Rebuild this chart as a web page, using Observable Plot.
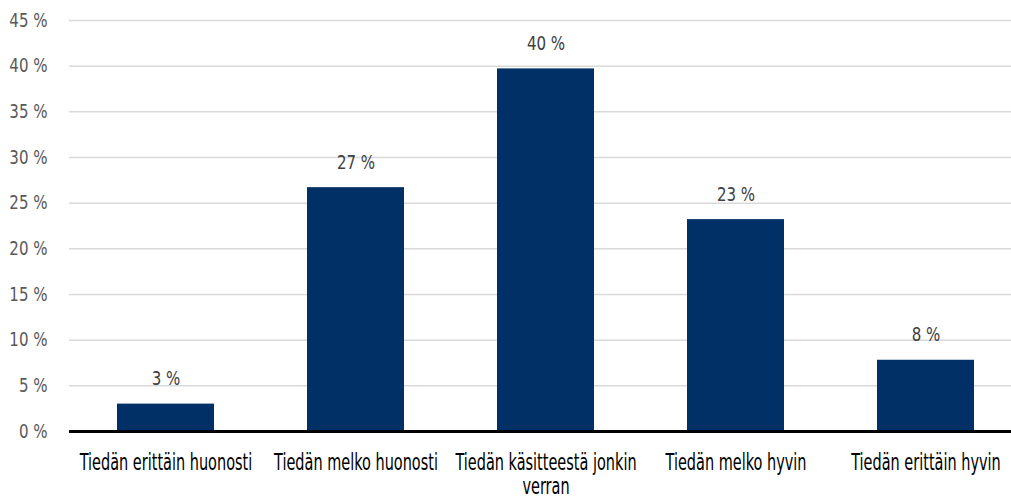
<!DOCTYPE html>
<html>
<head>
<meta charset="utf-8">
<script src="https://cdn.jsdelivr.net/npm/d3@7"></script>
<script src="https://cdn.jsdelivr.net/npm/@observablehq/plot@0.6"></script>
<style>
  html, body { margin: 0; padding: 0; background: #fff; }
  #chart svg { display: block; }
</style>
</head>
<body>
<div id="chart"></div>
<script>
const categories = [
  "Tiedän erittäin huonosti",
  "Tiedän melko huonosti",
  "Tiedän käsitteestä jonkin verran",
  "Tiedän melko hyvin",
  "Tiedän erittäin hyvin"
];
const axisLabels = [
  "Tiedän erittäin huonosti",
  "Tiedän melko huonosti",
  "Tiedän käsitteestä jonkin\nverran",
  "Tiedän melko hyvin",
  "Tiedän erittäin hyvin"
];
const values = [3.0, 26.7, 39.7, 23.2, 7.8];
const valueLabels = ["3 %", "27 %", "40 %", "23 %", "8 %"];
const yTicks = [0, 5, 10, 15, 20, 25, 30, 35, 40, 45];

const data = categories.map((c, i) => ({cat: c, value: values[i], label: valueLabels[i]}));
const font = "'DejaVu Sans Condensed', 'Liberation Sans Narrow', 'Roboto', sans-serif";

const chart = Plot.plot({
  width: 1011,
  height: 497,
  marginTop: 20,
  marginBottom: 66,
  marginLeft: 69,
  marginRight: 0,
  style: {fontFamily: font, fontSize: "18px", background: "#fff"},
  x: {domain: categories, range: [69, 1022], paddingInner: 0.49, paddingOuter: 0.245, label: null},
  y: {domain: [0, 45], label: null},
  marks: [
    Plot.gridY(yTicks, {stroke: "#d9d9d9", strokeOpacity: 1, strokeWidth: 1.5}),
    Plot.barY(data, {x: "cat", y: "value", fill: "#003066"}),
    Plot.ruleY([0], {stroke: "#000", strokeWidth: 3}),
    Plot.text(data, {x: "cat", y: "value", text: "label", dy: -25, fill: "#404040", fontSize: 19, className: "vlab"}),
    Plot.axisY(yTicks, {tickSize: 0, tickPadding: 22, tickFormat: d => d + " %", fill: "#595959", fontSize: 19, label: null, className: "ylab"}),
    Plot.axisX({tickSize: 0, tickPadding: 21, tickFormat: d => axisLabels[categories.indexOf(d)], fill: "#000", fontSize: 23, lineHeight: 1.05, label: null, className: "xlab"})
  ]
});

// condense text horizontally to mimic the narrow typeface of the original
function condense(sel, s) {
  chart.querySelectorAll(sel).forEach(t => {
    const tr = t.getAttribute("transform");
    if (tr) {
      t.setAttribute("transform", tr + ` scale(${s},1)`);
    } else {
      const x = +(t.getAttribute("x") || 0), y = +(t.getAttribute("y") || 0);
      t.removeAttribute("x"); t.removeAttribute("y");
      t.setAttribute("transform", `translate(${x},${y}) scale(${s},1)`);
    }
  });
}
condense(".xlab text", 0.7);
condense(".ylab text", 0.88);
condense(".vlab text", 0.88);
document.getElementById("chart").appendChild(chart);
</script>
</body>
</html>
